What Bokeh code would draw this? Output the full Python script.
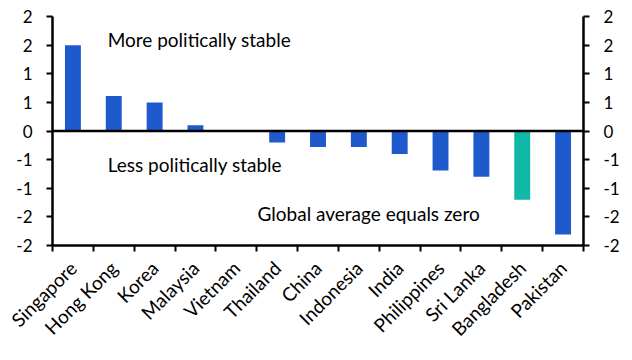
import math
from bokeh.plotting import figure
from bokeh.models import FixedTicker, LinearAxis, Range1d, Span, Label, ColumnDataSource
from bokeh.embed import file_html
from bokeh.resources import INLINE

# ---- data ----
countries = ["Singapore", "Hong Kong", "Korea", "Malaysia", "Vietnam", "Thailand",
             "China", "Indonesia", "India", "Philippines", "Sri Lanka", "Bangladesh", "Pakistan"]
scores = [1.50, 0.61, 0.50, 0.10, 0.0, -0.20, -0.28, -0.28, -0.40, -0.69, -0.80, -1.20, -1.81]
highlight = ["Bangladesh"]
y_ticks = [-2, -1.5, -1, -0.5, 0, 0.5, 1, 1.5, 2]
y_tick_labels = ["-2", "-2", "-1", "-1", "0", "1", "1", "2", "2"]

BLUE = "#1f5acd"
TEAL = "#10b8a7"
FONT = "Lato"

xs = list(range(len(countries)))
colors = [TEAL if c in highlight else BLUE for c in countries]
src = ColumnDataSource(dict(x=xs, top=scores, color=colors, name=countries))

p = figure(width=632, height=360, output_backend="svg", toolbar_location=None,
           x_range=Range1d(-0.5, len(countries) - 0.5), y_range=Range1d(-2, 2),
           min_border_left=52, min_border_right=49, min_border_top=16, min_border_bottom=115)
p.outline_line_color = None
p.xgrid.visible = False
p.ygrid.visible = False

p.vbar(x="x", top="top", bottom=0, width=0.39, fill_color="color", line_color=None, source=src)

p.add_layout(Span(location=0, dimension="width", line_color="black", line_width=2.5))

# x axis: labels at category centres, tick marks at category boundaries
xa = p.xaxis[0]
xa.ticker = FixedTicker(ticks=xs, minor_ticks=[i - 0.5 for i in range(len(countries) + 1)])
xa.major_label_overrides = {i: c for i, c in zip(xs, countries)}
xa.major_label_orientation = math.pi / 4
xa.major_label_text_font = FONT
xa.major_label_text_font_size = "19px"
xa.major_label_text_color = "black"
xa.major_label_standoff = 13
xa.major_tick_in = 0
xa.major_tick_out = 0
xa.minor_tick_in = 0
xa.minor_tick_out = 6
xa.minor_tick_line_width = 2
xa.minor_tick_line_color = "black"
xa.axis_line_width = 2.5
xa.axis_line_color = "black"


def style_y(ax):
    ax.ticker = FixedTicker(ticks=y_ticks)
    ax.major_label_overrides = {t: l for t, l in zip(y_ticks, y_tick_labels)}
    ax.major_tick_in = 0
    ax.major_tick_out = 6
    ax.major_tick_line_width = 2
    ax.major_tick_line_color = "black"
    ax.minor_tick_line_color = None
    ax.axis_line_width = 2.5
    ax.axis_line_color = "black"
    ax.major_label_text_font = FONT
    ax.major_label_text_font_size = "17px"
    ax.major_label_text_color = "black"
    ax.major_label_standoff = 14


style_y(p.yaxis[0])
ra = LinearAxis()
style_y(ra)
p.add_layout(ra, "right")

for txt, x, y in [("More politically stable", 0.85, 1.60),
                  ("Less politically stable", 0.85, -0.585),
                  ("Global average equals zero", 4.52, -1.44)]:
    p.add_layout(Label(x=x, y=y, text=txt, text_font=FONT, text_font_size="19px",
                       text_baseline="middle", text_align="left", text_color="black"))

open("out.html", "w").write(file_html(p, INLINE))
